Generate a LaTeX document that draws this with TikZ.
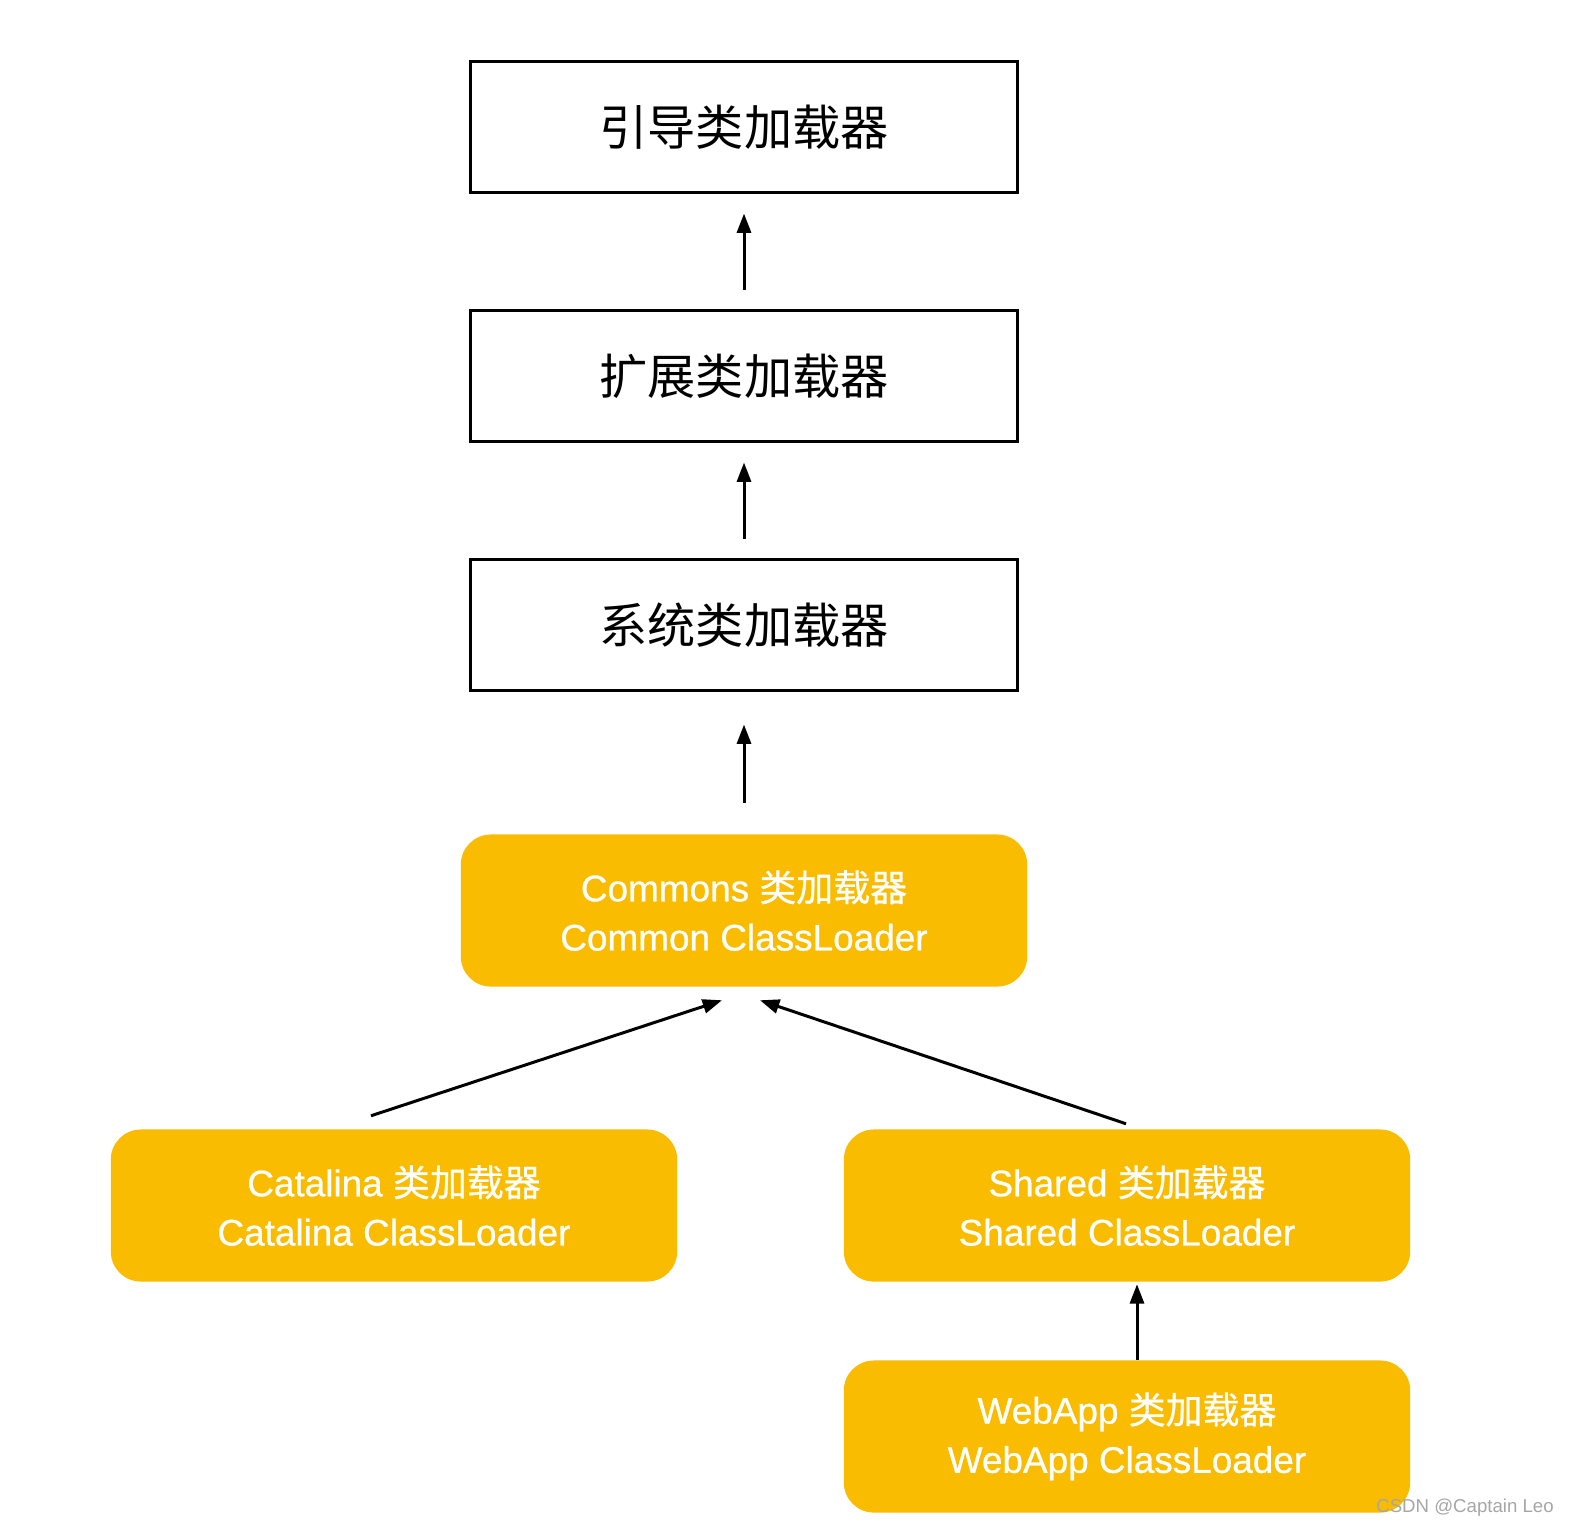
\documentclass[tikz,border=0pt]{standalone}
\usepackage{fontspec}
\setmainfont{Liberation Sans}
\newfontfamily\cjk{Noto Sans CJK SC}
\newfontfamily\cjkmed[FakeBold=0.7]{Noto Sans CJK SC}
\newfontfamily\latmed[FakeBold=0.7]{Liberation Sans}
\usetikzlibrary{arrows.meta,calc}
\definecolor{loaderyellow}{RGB}{249,188,0}
\tikzset{
  jvmbox/.style={draw=black,line width=0.85pt,minimum width=5.46cm,minimum height=1.30cm,
    font=\cjk\fontsize{13.7}{16}\selectfont},
  tomcatbox/.style={fill=loaderyellow,rounded corners=0.3cm,minimum width=5.66cm,minimum height=1.52cm,
    text=white,align=center,font=\latmed\fontsize{10.5}{14}\selectfont},
  up/.style={line width=0.85pt,-{Triangle[length=5.5pt,width=4pt]}}
}
\begin{document}
\begin{tikzpicture}[x=0.01cm,y=-0.01cm]
\useasboundingbox (0,0) rectangle (1572,1532);

\node[jvmbox] (boot) at (744,127) {引导类加载器};
\node[jvmbox] (ext) at (744,376) {扩展类加载器};
\node[jvmbox] (sys) at (744,625) {系统类加载器};

\node[tomcatbox] (common) at (744,910.5) {Commons {\cjkmed 类加载器}\\Common ClassLoader};
\node[tomcatbox] (catalina) at (394,1205.5) {Catalina {\cjkmed 类加载器}\\Catalina ClassLoader};
\node[tomcatbox] (shared) at (1127,1205.5) {Shared {\cjkmed 类加载器}\\Shared ClassLoader};
\node[tomcatbox] (webapp) at (1127,1436.5) {WebApp {\cjkmed 类加载器}\\WebApp ClassLoader};

% fleches verticales, avec un blanc de chaque cote
\coordinate (boottip) at ($(boot.south)+(0,20)$);
\coordinate (exttail) at ($(ext.north)+(0,-19)$);
\coordinate (exttip) at ($(ext.south)+(0,20)$);
\coordinate (systail) at ($(sys.north)+(0,-19)$);
\coordinate (systip) at ($(sys.south)+(0,33)$);
\coordinate (comtail) at ($(common.north)+(0,-31)$);
\draw[up] (exttail) -- (boottip);
\draw[up] (systail) -- (exttip);
\draw[up] (comtail) -- (systip);

% les deux fleches obliques vers Commons
\coordinate (catout) at ($(catalina.north)+(-23,-13)$);
\coordinate (comleft) at ($(common.south)+(-22,13)$);
\coordinate (shrout) at ($(shared.north)+(-1,-5)$);
\coordinate (comright) at ($(common.south)+(16,13)$);
\draw[up] (catout) -- (comleft);
\draw[up] (shrout) -- (comright);

\coordinate (webtail) at ($(webapp.north)+(10,0)$);
\coordinate (shrtip) at ($(shared.south)+(10,2)$);
\draw[up] (webtail) -- (shrtip);

\node[text=gray!70,font=\fontsize{5.3}{6}\selectfont] (wm) at (1465,1508) {CSDN @Captain Leo};
\end{tikzpicture}
\end{document}
